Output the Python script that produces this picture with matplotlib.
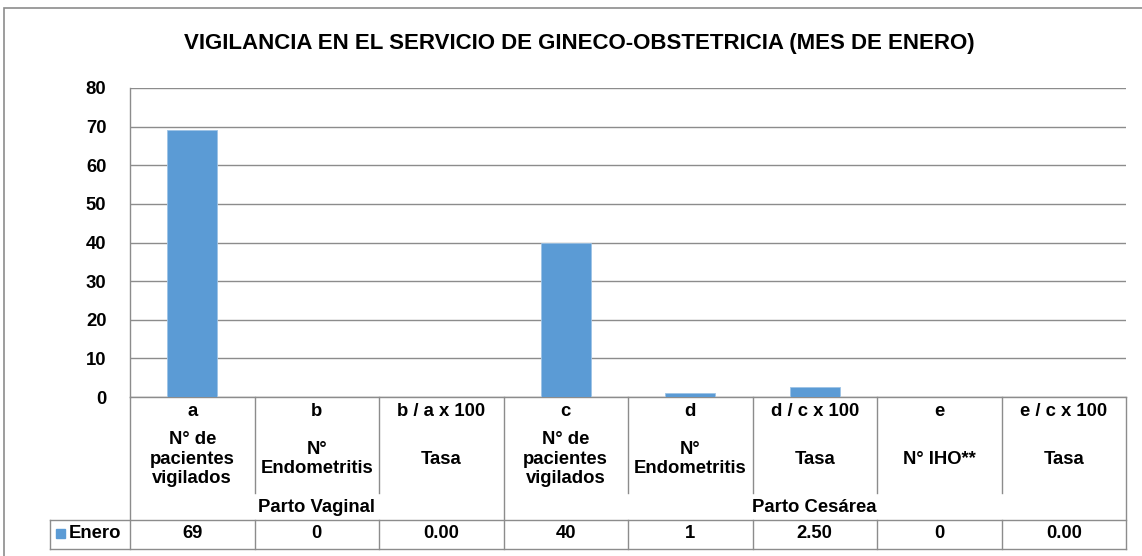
import matplotlib
matplotlib.use("Agg")
import matplotlib.pyplot as plt
from matplotlib.patches import Rectangle
from matplotlib.lines import Line2D
import matplotlib.transforms as mtransforms

plt.rcParams['font.family'] = ['Liberation Sans', 'DejaVu Sans']

title = "VIGILANCIA EN EL SERVICIO DE GINECO-OBSTETRICIA (MES DE ENERO)"
codes = ["a", "b", "b / a x 100", "c", "d", "d / c x 100", "e", "e / c x 100"]
labels = ["N° de\npacientes\nvigilados", "N°\nEndometritis", "Tasa",
          "N° de\npacientes\nvigilados", "N°\nEndometritis", "Tasa",
          "N° IHO**", "Tasa"]
groups = ["Parto Vaginal", "Parto Cesárea"]
group_sizes = [3, 5]
series_name = "Enero"
values = [69, 0, 0.00, 40, 1, 2.50, 0, 0.00]
value_fmt = ["{:.0f}", "{:.0f}", "{:.2f}", "{:.0f}", "{:.0f}", "{:.2f}", "{:.0f}", "{:.2f}"]
yticks = [0, 10, 20, 30, 40, 50, 60, 70, 80]

W, H = 1142, 556
BAR = "#5B9BD5"
GRID = "#8C8C8C"
FS = 13.3

fig = plt.figure(figsize=(W / 100, H / 100), dpi=100)

def fy(py):
    return 1 - py / H

def fx(px):
    return px / W

# outer frame (top and left visible)
fig.add_artist(Rectangle((fx(4), fy(H + 20)), 2, fy(8) - fy(H + 20),
                         transform=fig.transFigure, fill=False,
                         edgecolor=GRID, lw=1.2))

x0, x1, ytop, ybot = 130, 1126, 88, 397
ax = fig.add_axes([fx(x0), fy(ybot), fx(x1) - fx(x0), fy(ytop) - fy(ybot)])
n = len(values)
xs = list(range(n))
ax.bar(xs, values, width=0.4, color=BAR, edgecolor="#9DC3E6", linewidth=0.6, zorder=3)
ax.set_xlim(-0.5, n - 0.5)
ax.set_ylim(0, 80)
ax.set_yticks(yticks)
ax.set_yticklabels([str(t) for t in yticks], fontsize=FS, fontweight="bold")
ax.tick_params(axis="y", length=0, pad=17)
ax.set_xticks([])
ax.grid(axis="y", color=GRID, lw=1, zorder=0)
for s in ["top", "right"]:
    ax.spines[s].set_visible(False)
ax.spines["left"].set_color(GRID)
ax.spines["bottom"].set_color(GRID)
ax.spines["left"].set_linewidth(1)
ax.spines["bottom"].set_linewidth(1)
ax.set_axisbelow(True)

fig.text(0.507, fy(44), title, ha="center", va="center",
         fontsize=16, fontweight="bold")

# data table
bt = mtransforms.blended_transform_factory(ax.transData, fig.transFigure)
hdr_bot, row_top, row_bot = 493, 520, 549
line_kw = dict(color=GRID, lw=1)

def vline(x, ya, yb, trans=bt):
    fig.add_artist(Line2D([x, x], [fy(ya), fy(yb)], transform=trans, **line_kw))

def hline(xa, xb, y):
    fig.add_artist(Line2D([fx(xa), fx(xb)], [fy(y), fy(y)],
                          transform=fig.transFigure, **line_kw))

bounds = [-0.5]
acc = -0.5
for g in group_sizes:
    acc += g
    bounds.append(acc)
for b in bounds:
    vline(b, ybot, row_bot)
for i in range(n - 1):
    b = i + 0.5
    if b in bounds:
        continue
    vline(b, ybot, hdr_bot)
    vline(b, row_top, row_bot)
hline(50, x1, row_top)
hline(50, x1, row_bot)
fig.add_artist(Line2D([fx(50), fx(50)], [fy(row_top), fy(row_bot)],
                      transform=fig.transFigure, **line_kw))

for i in range(n):
    fig.text(i, fy(412), codes[i], transform=bt, ha="center", va="center",
             fontsize=FS, fontweight="bold")
    fig.text(i, fy(459), labels[i], transform=bt, ha="center", va="center",
             fontsize=FS, fontweight="bold", linespacing=1.22)
    fig.text(i, fy(534), value_fmt[i].format(values[i]), transform=bt,
             ha="center", va="center", fontsize=FS, fontweight="bold")

for gi, g in enumerate(groups):
    c = (bounds[gi] + bounds[gi + 1]) / 2
    fig.text(c, fy(507), g, transform=bt, ha="center", va="center",
             fontsize=FS, fontweight="bold")

# legend key
fig.add_artist(Rectangle((fx(56), fy(538)), fx(9), fy(529) - fy(538),
                         transform=fig.transFigure, color=BAR))
fig.text(fx(69), fy(534), series_name, ha="left", va="center",
         fontsize=FS, fontweight="bold")

fig.savefig("out.png", dpi=100)
